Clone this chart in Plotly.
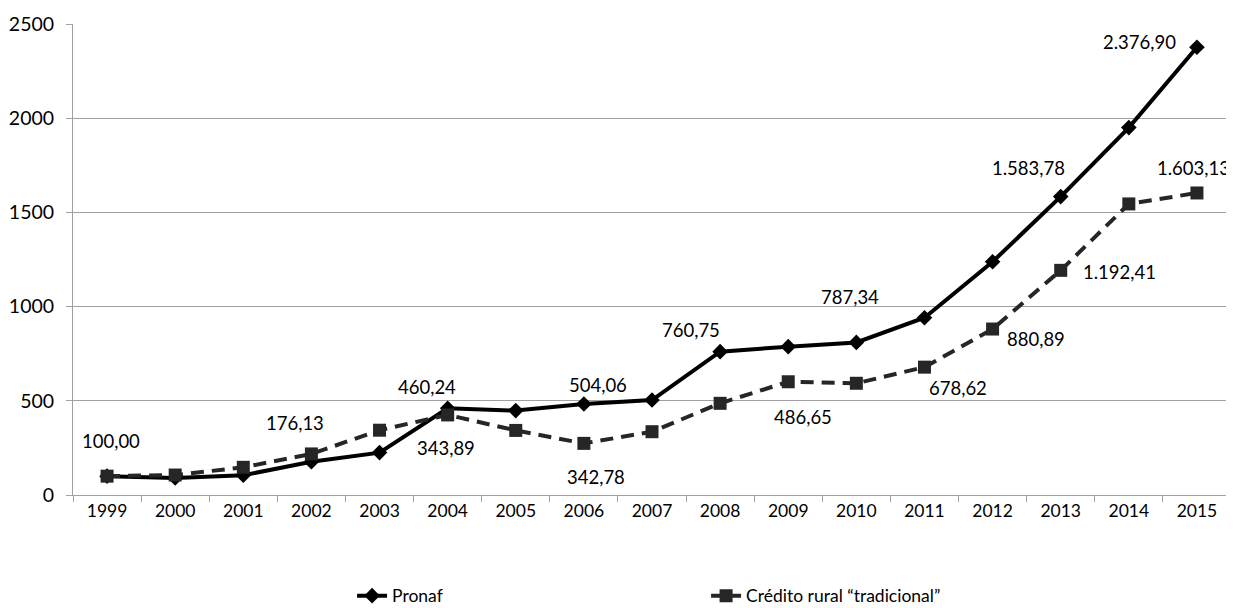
import plotly.graph_objects as go

years = [str(y) for y in range(1999, 2016)]
pronaf = [100.00, 90, 105, 176.13, 225, 460.24, 448, 483, 504.06, 760.75, 787.34, 810, 941, 1238, 1583.78, 1950, 2376.90]
credito = [100.00, 106, 147, 218, 343.89, 425, 342.78, 274, 336, 486.65, 601, 593, 678.62, 880.89, 1192.41, 1545, 1603.13]

# data labels: (text, series, year, xshift, yshift)
labels = [
    ("100,00", "p", "1999", 4, 35),
    ("176,13", "p", "2002", -16, 39),
    ("460,24", "p", "2004", -21, 21),
    ("343,89", "c", "2004", -2, -33),
    ("504,06", "p", "2006", 14, 19),
    ("342,78", "c", "2006", 12, -34),
    ("760,75", "p", "2008", -29, 22),
    ("486,65", "c", "2009", 15, -35),
    ("787,34", "p", "2010", -6, 45),
    ("678,62", "c", "2011", 34, -21),
    ("880,89", "c", "2012", 43, -10),
    ("1.583,78", "p", "2013", -32, 29),
    ("1.192,41", "c", "2013", 59, -2),
    ("1.603,13", "c", "2015", -3, 25),
    ("2.376,90", "p", "2015", -57, 5),
]

FONT = "Lato"
fig = go.Figure()
fig.add_trace(go.Scatter(
    x=years, y=pronaf, name="Pronaf", mode="lines+markers",
    line=dict(color="#000000", width=4),
    marker=dict(symbol="diamond", size=12, color="#000000"),
))
fig.add_trace(go.Scatter(
    x=years, y=credito, name="Crédito rural “tradicional”", mode="lines+markers",
    line=dict(color="#262626", width=4, dash="13px,8px"),
    marker=dict(symbol="square", size=13, color="#262626"),
))

series = {"p": pronaf, "c": credito}
for text, s, yr, dx, dy in labels:
    i = years.index(yr)
    fig.add_annotation(
        x=i, y=series[s][i], text=text, showarrow=False,
        xshift=dx, yshift=dy, font=dict(family=FONT, size=18.5, color="#000000"),
    )

# page body has an 8px margin, so the figure is 8px smaller than the window
fig.update_layout(
    width=1226, height=600,
    margin=dict(l=65, r=3, t=16, b=113, autoexpand=False),
    paper_bgcolor="white", plot_bgcolor="white",
    font=dict(family=FONT, color="#000000"),
    showlegend=True,
    legend=dict(
        orientation="h", x=0.241, xanchor="left", y=-0.214, yanchor="middle",
        font=dict(family=FONT, size=17.5), entrywidth=309, entrywidthmode="pixels",
        bgcolor="rgba(0,0,0,0)",
    ),
    xaxis=dict(
        type="category", range=[-0.5, 16.5], tickson="boundaries",
        ticks="outside", ticklen=6, tickcolor="#a0a0a0",
        showline=True, linecolor="#a0a0a0", linewidth=1,
        showgrid=False, tickfont=dict(family=FONT, size=17.5),
        automargin=False,
    ),
    yaxis=dict(
        range=[0, 2500], tickvals=[0, 500, 1000, 1500, 2000, 2500],
        ticks="outside", ticklen=6, tickcolor="#a0a0a0",
        showline=True, linecolor="#a0a0a0", linewidth=1,
        showgrid=True, gridcolor="#a0a0a0", gridwidth=1,
        zeroline=False, tickfont=dict(family=FONT, size=19.5),
        ticklabelstandoff=8, automargin=False,
    ),
)

fig.write_html("out.html")
